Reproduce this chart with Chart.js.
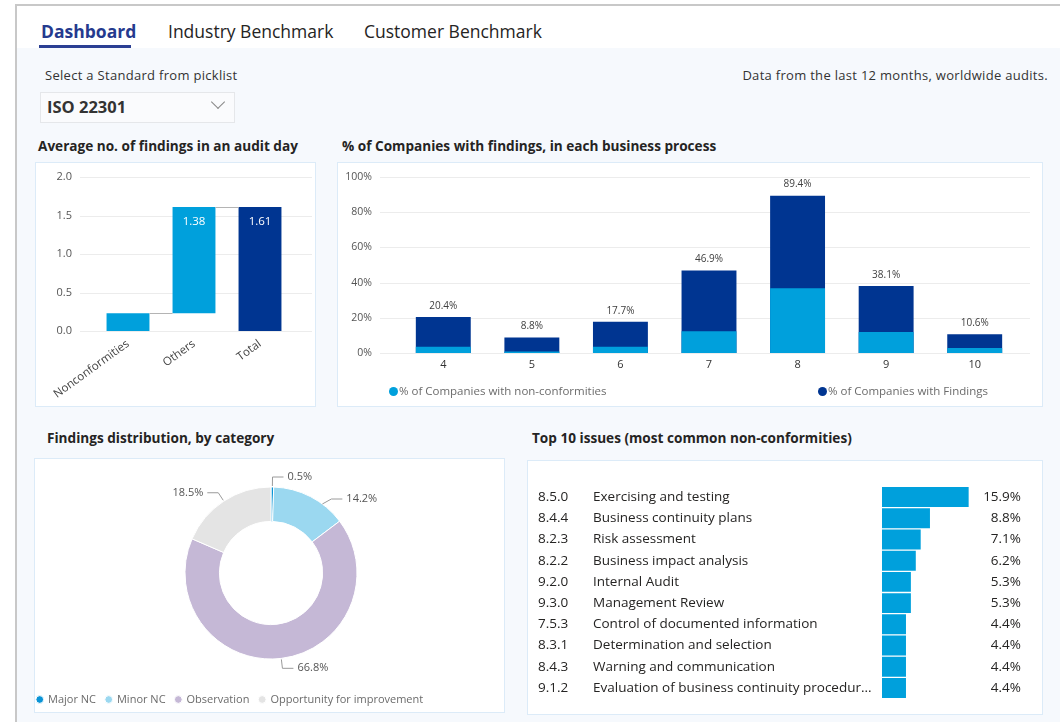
<!DOCTYPE html>
<html>
<head>
<meta charset="utf-8">
<script src="https://cdn.jsdelivr.net/npm/chart.js@4.4.1/dist/chart.umd.min.js"></script>
<style>
  body { margin: 0; width: 1060px; height: 722px; background: #fff; font-family: 'Open Sans', sans-serif; color: #252423; position: relative; overflow: hidden; }
  .abs { position: absolute; }
  #frame { left: 15px; top: 4px; width: 1045px; height: 718px; border-left: 2px solid #c8c8c8; border-top: 2px solid #c8c8c8; background: #f6f9fd; }
  #tabband { left: 17px; top: 6px; width: 1043px; height: 42px; background: #fff; }
  .tab { top: 18px; font-size: 17.5px; line-height: 26px; white-space: nowrap; }
  #tab1 { left: 41px; font-weight: 700; color: #253a8e; }
  #tab2 { left: 168px; }
  #tab3 { left: 364px; }
  #underline { left: 39px; top: 45px; width: 92px; height: 3px; background: #2b3f93; }
  .small { font-size: 13px; letter-spacing: 0.3px; line-height: 16px; white-space: nowrap; color: #333; }
  #picktitle { left: 45px; top: 67px; }
  #note { right: 12px; top: 67px; }
  #dropdown { left: 40px; top: 92px; width: 193px; height: 29px; border: 1px solid #e5e7ea; background: #fafbfd; }
  #dropdown span { position: absolute; left: 6px; top: 3px; font-size: 16.5px; font-weight: 700; line-height: 22px; color: #333; }
  #chev { left: 213px; top: 97px; width: 9px; height: 9px; border-right: 1px solid #888; border-bottom: 1px solid #888; transform: rotate(45deg); }
  .title { font-size: 13.6px; font-weight: 700; line-height: 18px; white-space: nowrap; color: #252423; }
  .box { background: #fff; border: 1px solid #dcebf8; box-sizing: border-box; }
  .legend2 { font-size: 11.5px; line-height: 14px; color: #6b6b6b; white-space: nowrap; }
  .legend2 i { display: inline-block; width: 9px; height: 9px; border-radius: 50%; margin-right: 1px; vertical-align: -1px; }
  canvas { position: absolute; }
</style>
</head>
<body>
<div id="frame" class="abs"></div>
<div id="tabband" class="abs"></div>
<div id="tab1" class="abs tab">Dashboard</div>
<div id="tab2" class="abs tab">Industry Benchmark</div>
<div id="tab3" class="abs tab">Customer Benchmark</div>
<div id="underline" class="abs"></div>

<div id="picktitle" class="abs small">Select a Standard from picklist</div>
<div id="dropdown" class="abs"><span>ISO 22301</span></div>
<div id="chev" class="abs"></div>
<div id="note" class="abs small">Data from the last 12 months, worldwide audits.</div>

<div class="abs title" style="left:38px;top:137px">Average no. of findings in an audit day</div>
<div class="abs box" style="left:35px;top:162px;width:281px;height:245px"></div>
<canvas id="avgChart" style="left:36px;top:163px" width="278" height="243"></canvas>

<div class="abs title" style="left:342px;top:137px">% of Companies with findings, in each business process</div>
<div class="abs box" style="left:337px;top:162px;width:706px;height:245px"></div>
<canvas id="processChart" style="left:338px;top:163px" width="704" height="243"></canvas>
<div id="leg2a" class="abs legend2" style="left:389px;top:384px"></div>
<div id="leg2b" class="abs legend2" style="left:818px;top:384px"></div>

<div class="abs title" style="left:47px;top:429px">Findings distribution, by category</div>
<div class="abs box" style="left:34px;top:458px;width:471px;height:255px"></div>
<canvas id="categoryChart" style="left:27px;top:459px" width="488" height="256"></canvas>

<div class="abs title" style="left:532px;top:429px">Top 10 issues (most common non-conformities)</div>
<div class="abs box" style="left:527px;top:460px;width:516px;height:255px"></div>
<canvas id="issuesChart" style="left:533px;top:467px" width="492" height="233"></canvas>

<script>
const avgCategories = ['Nonconformities', 'Others', 'Total'];
const avgValues = [0.23, 1.38, 1.61];
const avgIsTotal = [false, false, true];
const avgColors = ['#00a0dc', '#00a0dc', '#003591'];

const processCategories = ['4', '5', '6', '7', '8', '9', '10'];
const processNc = [3.6, 0.9, 3.5, 12.4, 36.8, 11.9, 2.8];
const processFindings = [20.4, 8.8, 17.7, 46.9, 89.4, 38.1, 10.6];
const processLabels = ['% of Companies with non-conformities', '% of Companies with Findings'];

const categoryNames = ['Major NC', 'Minor NC', 'Observation', 'Opportunity for improvement'];
const categoryShares = [0.5, 14.2, 66.8, 18.5];
const categoryColors = ['#0a94d6', '#9bd8f0', '#c5b8d6', '#e4e4e4'];

const issueCodes = ['8.5.0', '8.4.4', '8.2.3', '8.2.2', '9.2.0', '9.3.0', '7.5.3', '8.3.1', '8.4.3', '9.1.2'];
const issueNames = ['Exercising and testing', 'Business continuity plans', 'Risk assessment', 'Business impact analysis',
  'Internal Audit', 'Management Review', 'Control of documented information', 'Determination and selection',
  'Warning and communication', 'Evaluation of business continuity procedures'];
const issueShares = [15.9, 8.8, 7.1, 6.2, 5.3, 5.3, 4.4, 4.4, 4.4, 4.4];

const LIGHT = '#00a0dc';
const DARK = '#003591';

Chart.defaults.font.family = "'Open Sans', sans-serif";
Chart.defaults.animation = false;
Chart.defaults.devicePixelRatio = 1;

// grid lines a bit wider than the chart area (like Power BI)
const wideGrid = {
  id: 'wideGrid',
  beforeDatasetsDraw(chart, args, opts) {
    const { ctx, chartArea, scales } = chart;
    ctx.save();
    ctx.strokeStyle = '#ececec';
    ctx.lineWidth = 1;
    scales.y.ticks.forEach(t => {
      const py = Math.round(scales.y.getPixelForValue(t.value)) + 0.5;
      ctx.beginPath();
      ctx.moveTo(chartArea.left - opts.left, py);
      ctx.lineTo(chartArea.right + opts.right, py);
      ctx.stroke();
    });
    ctx.restore();
  }
};

// fixed width y axis, without the extra top/bottom padding
const fixY = w => s => { s.width = w; s.paddingTop = 0; s.paddingBottom = 0; };

// ---- waterfall
let acc = 0;
const avgRanges = avgValues.map((v, i) => {
  if (avgIsTotal[i]) return [0, v];
  const r = [acc, acc + v];
  acc += v;
  return r;
});

const waterfallExtras = {
  id: 'waterfallExtras',
  afterDatasetsDraw(chart) {
    const { ctx, scales } = chart;
    const bars = chart.getDatasetMeta(0).data;
    ctx.save();
    ctx.strokeStyle = '#b4b4b4';
    ctx.lineWidth = 1;
    for (let i = 0; i < bars.length - 1; i++) {
      const py = Math.round(scales.y.getPixelForValue(avgRanges[i][1])) + 0.5;
      ctx.beginPath();
      ctx.moveTo(bars[i].x + bars[i].width / 2, py);
      ctx.lineTo(bars[i + 1].x - bars[i + 1].width / 2, py);
      ctx.stroke();
    }
    ctx.fillStyle = '#fff';
    ctx.font = "11.5px 'Open Sans', sans-serif";
    ctx.textAlign = 'center';
    ctx.textBaseline = 'middle';
    bars.forEach((b, i) => {
      if (Math.abs(b.base - b.y) > 40) ctx.fillText(avgValues[i].toFixed(2), b.x, Math.min(b.y, b.base) + 15);
    });
    ctx.restore();
  }
};

new Chart(document.getElementById('avgChart'), {
  type: 'bar',
  data: {
    labels: avgCategories,
    datasets: [{
      data: avgRanges,
      backgroundColor: avgColors,
      barPercentage: 0.65,
      categoryPercentage: 1
    }]
  },
  options: {
    responsive: false,
    layout: { padding: { top: 14, right: 21, left: 0, bottom: 0 } },
    plugins: { legend: { display: false }, tooltip: { enabled: false }, wideGrid: { left: 15, right: 19 } },
    scales: {
      x: {
        grid: { display: false, drawTicks: false }, border: { display: false },
        ticks: { minRotation: 36, maxRotation: 36, color: '#444', font: { size: 11.5 }, padding: 6 },
        afterFit: s => { s.height = 75; }
      },
      y: {
        min: 0, max: 2,
        grid: { display: false, drawTicks: false }, border: { display: false },
        ticks: { stepSize: 0.5, padding: 23, color: '#555', font: { size: 11 }, callback: v => v.toFixed(1) },
        afterFit: fixY(59)
      }
    }
  },
  plugins: [wideGrid, waterfallExtras]
});

// ---- process bars
const topLabels = {
  id: 'topLabels',
  afterDatasetsDraw(chart) {
    const { ctx } = chart;
    const bars = chart.getDatasetMeta(1).data;
    ctx.save();
    ctx.fillStyle = '#404040';
    ctx.font = "10px 'Open Sans', sans-serif";
    ctx.textAlign = 'center';
    ctx.textBaseline = 'middle';
    bars.forEach((b, i) => ctx.fillText(processFindings[i].toFixed(1) + '%', b.x, b.y - 11));
    ctx.restore();
  }
};

const processChart = new Chart(document.getElementById('processChart'), {
  type: 'bar',
  data: {
    labels: processCategories,
    datasets: [
      { label: processLabels[0], data: processNc, backgroundColor: LIGHT, barPercentage: 0.62, categoryPercentage: 1 },
      { label: processLabels[1], data: processFindings, backgroundColor: DARK, barPercentage: 0.62, categoryPercentage: 1 }
    ]
  },
  options: {
    responsive: false,
    layout: { padding: { top: 14, right: 23, left: 0, bottom: 0 } },
    plugins: { legend: { display: false }, tooltip: { enabled: false }, wideGrid: { left: 19, right: 11 } },
    scales: {
      x: {
        stacked: true,
        grid: { display: false, drawTicks: false }, border: { display: false },
        ticks: { color: '#333', font: { size: 11 }, padding: 5 },
        afterFit: s => { s.height = 53; }
      },
      y: {
        stacked: false,
        min: 0, max: 100,
        grid: { display: false, drawTicks: false }, border: { display: false },
        ticks: { stepSize: 20, padding: 27, color: '#555', font: { size: 10.5 }, callback: v => v + '%' },
        afterFit: fixY(61)
      }
    }
  },
  plugins: [wideGrid, topLabels]
});

['leg2a', 'leg2b'].forEach((id, i) => {
  const ds = processChart.data.datasets[i];
  document.getElementById(id).innerHTML = '<i style="background:' + ds.backgroundColor + '"></i>' + ds.label;
});

// ---- doughnut
const sliceLabels = {
  id: 'sliceLabels',
  afterDatasetsDraw(chart) {
    const { ctx } = chart;
    const arcs = chart.getDatasetMeta(0).data;
    const items = arcs.map(arc => {
      const a = (arc.startAngle + arc.endAngle) / 2;
      const R = arc.outerRadius;
      const dx = Math.cos(a), dy = Math.sin(a);
      return {
        cx: arc.x, cy: arc.y, R, side: dx >= 0 ? 1 : -1,
        x0: arc.x + (R + 1) * dx, y0: arc.y + (R + 1) * dy,
        x1: arc.x + (R + 10) * dx, y1: arc.y + (R + 10) * dy
      };
    });
    // push labels down on the right side when they overlap
    let prev = null;
    items.forEach(it => {
      if (it.side < 0) return;
      if (prev !== null && it.y1 < prev + 22) {
        it.y1 = prev + 22;
        it.y0 = it.y1 + 5;
        it.x0 = it.cx + Math.sqrt(Math.max(0, it.R * it.R - (it.y0 - it.cy) ** 2));
        it.x1 = it.x0 + 9;
      }
      prev = it.y1;
    });
    ctx.save();
    ctx.font = "11px 'Open Sans', sans-serif";
    ctx.textBaseline = 'middle';
    items.forEach((it, i) => {
      const x2 = it.x1 + it.side * 11;
      ctx.strokeStyle = '#9a9a9a';
      ctx.lineWidth = 1;
      ctx.beginPath();
      ctx.moveTo(it.x0, it.y0); ctx.lineTo(it.x1, it.y1); ctx.lineTo(x2, it.y1);
      ctx.stroke();
      ctx.fillStyle = '#555';
      ctx.textAlign = it.side > 0 ? 'left' : 'right';
      ctx.fillText(categoryShares[i].toFixed(1) + '%', x2 + it.side * 4, it.y1);
    });
    ctx.restore();
  }
};

new Chart(document.getElementById('categoryChart'), {
  type: 'doughnut',
  data: {
    labels: categoryNames,
    datasets: [{
      data: categoryShares,
      backgroundColor: categoryColors,
      borderColor: '#fff',
      borderWidth: 1
    }]
  },
  options: {
    responsive: false,
    radius: 86,
    cutout: '60%',
    layout: { padding: { top: 3, left: 0, right: 0, bottom: 0 } },
    plugins: {
      tooltip: { enabled: false },
      legend: {
        position: 'bottom', align: 'start',
        labels: { usePointStyle: true, pointStyle: 'circle', boxWidth: 5.5, boxHeight: 5.5, padding: 10, color: '#6b6b6b', font: { size: 11 } }
      }
    }
  },
  plugins: [sliceLabels]
});

// ---- top 10 issues
const issueText = {
  id: 'issueText',
  afterDatasetsDraw(chart) {
    const { ctx, chartArea, scales } = chart;
    ctx.save();
    ctx.font = "13.5px 'Open Sans', sans-serif";
    ctx.fillStyle = '#252423';
    ctx.textBaseline = 'middle';
    const nameMax = chartArea.left - 60 - 8;
    issueCodes.forEach((code, i) => {
      const py = scales.y.getPixelForValue(i);
      ctx.textAlign = 'left';
      ctx.fillText(code, 5, py);
      let name = issueNames[i];
      if (ctx.measureText(name).width > nameMax) {
        while (ctx.measureText(name + '...').width > nameMax) name = name.slice(0, -1);
        name += '...';
      }
      ctx.fillText(name, 60, py);
      ctx.textAlign = 'right';
      ctx.fillText(issueShares[i].toFixed(1) + '%', chart.width - 4, py);
    });
    ctx.restore();
  }
};

new Chart(document.getElementById('issuesChart'), {
  type: 'bar',
  data: {
    labels: issueCodes,
    datasets: [{ data: issueShares, backgroundColor: LIGHT, barPercentage: 0.94, categoryPercentage: 1 }]
  },
  options: {
    indexAxis: 'y',
    responsive: false,
    layout: { padding: { left: 349, right: 34, top: 19.4, bottom: 1.4 } },
    plugins: { legend: { display: false }, tooltip: { enabled: false } },
    scales: {
      x: { display: false, min: 0, max: 20 },
      y: { display: false }
    }
  },
  plugins: [issueText]
});
</script>
</body>
</html>
